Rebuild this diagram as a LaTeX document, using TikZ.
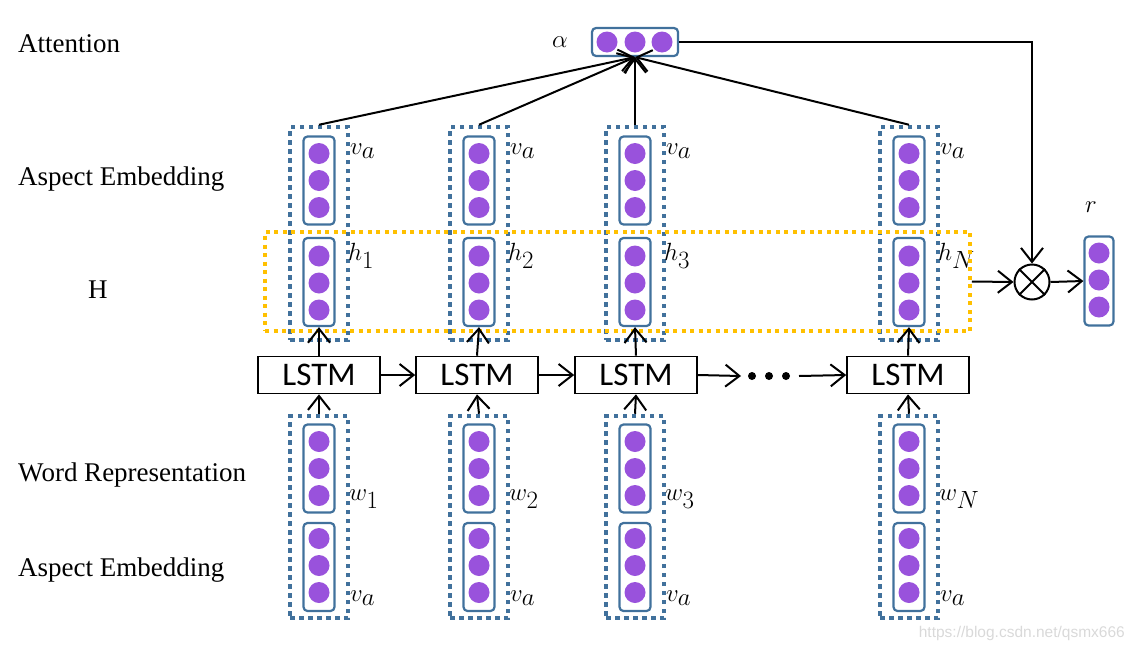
\documentclass[tikz,border=0pt]{standalone}
\usepackage{fontspec}
\setmainfont{Liberation Serif}
\newfontfamily\lstmfont{Carlito}
\newfontfamily\wmfont{Liberation Sans}
\usetikzlibrary{arrows.meta,calc}
\definecolor{boxblue}{RGB}{65,113,156}
\definecolor{ballpurple}{RGB}{153,82,220}
\definecolor{dashorange}{RGB}{255,192,0}
\tikzset{
  vec/.style={draw=boxblue, line width=2.2pt, rounded corners=4pt, minimum width=31pt, minimum height=88pt, inner sep=0pt},
  ball/.style={circle, fill=ballpurple, minimum size=21pt, inner sep=0pt},
  outerdot/.style={draw=boxblue, line width=4.5pt, dash pattern=on 4.5pt off 4.5pt, inner sep=0pt},
  orangebox/.style={draw=dashorange, line width=3.8pt, dash pattern=on 4pt off 4.5pt, inner sep=0pt},
  lstm/.style={draw, line width=1.6pt, minimum width=122pt, minimum height=37pt, inner sep=0pt, font=\lstmfont\fontsize{33}{33}\selectfont},
  arr/.style={line width=2pt, -{Straight Barb[length=14pt,width=22pt,line width=2pt]}},
  sidelabel/.style={anchor=west, inner sep=0pt, font=\fontsize{27}{30}\selectfont},
  mlabel/.style={anchor=west, inner sep=0pt, font=\fontsize{34}{34}\selectfont},
  dotball/.style={circle, fill=black, minimum size=8pt, inner sep=0pt},
}
\newcommand\threeballs[3]{% name, x, y center
  \node[ball] (#1-1) at (#2,#3-27) {};
  \node[ball] (#1-2) at (#2,#3) {};
  \node[ball] (#1-3) at (#2,#3+27) {};
}
\newcommand\mkcol[3]{% name, x, subscript
  \node[outerdot, minimum width=58pt, minimum height=213pt] (up#1) at (#2,233.5) {};
  \node[vec] (va#1) at (#2,180.5) {};
  \node[vec] (h#1) at (#2,282) {};
  \node[outerdot, minimum width=58pt, minimum height=202pt] (lo#1) at (#2,517) {};
  \node[vec] (w#1) at (#2,468.5) {};
  \node[vec] (vb#1) at (#2,567) {};
  \threeballs{va#1b}{#2}{180.5}
  \threeballs{h#1b}{#2}{283}
  \threeballs{w#1b}{#2}{468.5}
  \threeballs{vb#1b}{#2}{565.5}
  \node[mlabel] (lva#1) at (#2+31,151) {$v_a$};
  \node[mlabel] (lh#1) at (#2+29,256) {$h_{#3}$};
  \node[mlabel] (lw#1) at (#2+30,499) {$w_{#3}$};
  \node[mlabel] (lvb#1) at (#2+31,598) {$v_a$};
}
\begin{document}
\begin{tikzpicture}[x=1pt,y=-1pt]
\useasboundingbox (0,0) rectangle (1133,651);

% left labels
\node[sidelabel] (tatt) at (18,44) {Attention};
\node[sidelabel] (tasp1) at (18,179) {Aspect Embedding};
\node[sidelabel] (tH) at (88,290) {H};
\node[sidelabel] (tword) at (18,475) {Word Representation};
\node[sidelabel] (tasp2) at (18,570) {Aspect Embedding};

% columns
\mkcol{1}{319}{1}
\mkcol{2}{479}{2}
\mkcol{3}{635}{3}
\mkcol{4}{909}{N}

% orange H box
\node[orangebox, minimum width=705pt, minimum height=99pt] (Hbox) at (617.5,281.5) {};

% LSTMs
\node[lstm] (L1) at (319,375) {LSTM};
\node[lstm] (L2) at (477,375) {LSTM};
\node[lstm] (L3) at (636,375) {LSTM};
\node[lstm] (L4) at (908,375) {LSTM};

% dots
\node[dotball] (d1) at (752,376) {};
\node[dotball] (d2) at (769,376) {};
\node[dotball] (d3) at (786,376) {};
\coordinate (dl) at (741,376);
\coordinate (dr) at (799,376);

% arrows LSTM chain
\draw[arr] (L1.east) -- (L2.west);
\draw[arr] (L2.east) -- (L3.west);
\draw[arr] (L3.east) -- (dl);
\draw[arr] (dr) -- (L4.west);

% vertical arrows
\foreach \i in {1,2,3,4}{
  \draw[arr] (L\i.north) -- (h\i.south);
  \draw[arr] (lo\i.north) -- (L\i.south);
}

% attention
\node[vec, minimum width=86pt, minimum height=28pt] (alpha) at (635,42) {};
\node[ball] (al-1) at (607,42) {};
\node[ball] (al-2) at (635,42) {};
\node[ball] (al-3) at (662,42) {};
\node[mlabel] (lalpha) at (552,42) {$\alpha$};

\foreach \i in {1,2,3,4}{
  \draw[arr] (up\i.north) -- (alpha.south);
}

% otimes and r
\node[circle, draw, line width=2pt, minimum size=35pt, inner sep=0pt] (ot) at (1032,282) {};
\draw[line width=2pt] (ot.45) -- (ot.225) (ot.135) -- (ot.315);
\node[vec, minimum width=29pt, minimum height=89pt] (rbox) at (1099,281) {};
\threeballs{rb}{1099}{280}
\node[mlabel] (lr) at (1085,207) {$r$};

\coordinate (corner) at (1032,42);
\draw[arr] (alpha.east) -- (corner) -- (ot.north);
\draw[arr] (Hbox.east) -- (ot.west);
\draw[arr] (ot.east) -- (rbox.west);

% watermark
\node[anchor=east, inner sep=0pt, text=black!15, font=\wmfont\fontsize{15.5}{16}\selectfont] (wm) at (1125,633) {https://blog.csdn.net/qsmx666};
\end{tikzpicture}
\end{document}
